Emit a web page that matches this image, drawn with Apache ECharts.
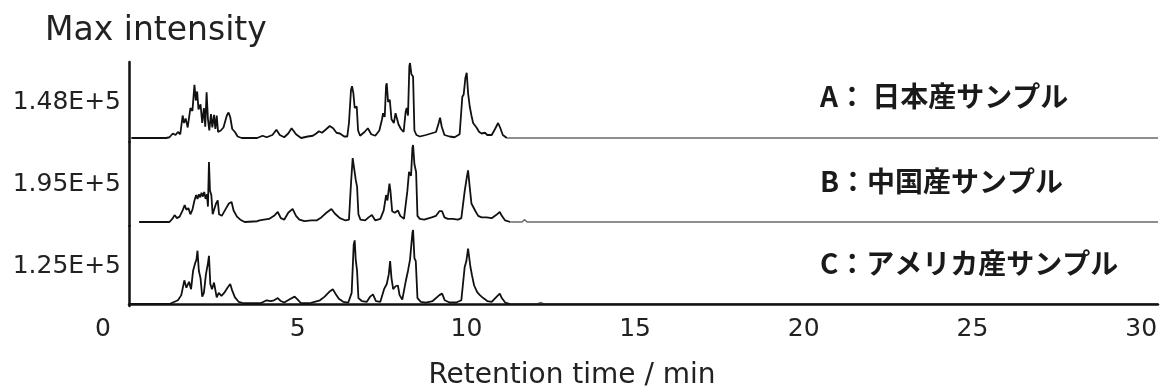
<!DOCTYPE html>
<html>
<head>
<meta charset="utf-8">
<style>
  html, body { margin: 0; padding: 0; background: #fff; }
  #chart { width: 1168px; height: 392px; }
</style>
<script src="https://cdn.jsdelivr.net/npm/echarts@6.0.0/dist/echarts.min.js"></script>
</head>
<body>
<div id="chart"></div>
<script>
// Total ion chromatograms of three samples, each scaled to its own maximum (%).
// Points are [retention time (min), relative intensity (%)].
const traceA = [
  [0.07,0],[1.1,0],[1.2,1],[1.3,6],[1.38,4],[1.45,8],[1.52,5],[1.59,30],[1.63,20],[1.68,26],
  [1.74,14],[1.82,40],[1.88,36],[1.94,71],[1.98,50],[2.02,62],[2.06,38],[2.12,45],[2.17,20],
  [2.22,40],[2.26,15],[2.3,61],[2.34,25],[2.38,10],[2.43,32],[2.47,14],[2.52,31],[2.56,12],
  [2.6,30],[2.64,8],[2.72,10],[2.8,14],[2.9,30],[2.95,34],[3.0,28],[3.06,12],[3.14,8],[3.22,2],
  [3.34,0],[3.8,0],[3.96,3],[4.08,1],[4.25,4],[4.37,11],[4.47,4],[4.6,1],[4.72,6],[4.82,13],
  [4.95,5],[5.1,0],[5.3,2],[5.45,3],[5.55,6],[5.63,9],[5.72,7],[5.85,12],[5.95,16],[6.05,13],
  [6.15,7],[6.25,6],[6.38,2],[6.47,2],[6.52,20],[6.58,64],[6.61,69],[6.65,60],[6.69,40],
  [6.75,42],[6.79,10],[6.85,3],[6.98,8],[7.08,13],[7.18,5],[7.3,3],[7.42,10],[7.5,25],[7.53,33],
  [7.58,28],[7.62,70],[7.64,73],[7.68,48],[7.73,51],[7.78,25],[7.85,20],[7.9,33],[7.94,33],
  [7.99,18],[8.06,12],[8.14,8],[8.2,35],[8.23,40],[8.27,30],[8.31,96],[8.33,100],[8.37,85],
  [8.42,82],[8.46,10],[8.52,4],[8.62,2],[8.8,4],[8.95,6],[9.1,8],[9.18,20],[9.22,27],[9.27,15],
  [9.35,4],[9.5,2],[9.65,1],[9.8,5],[9.88,55],[9.92,58],[9.97,80],[10.01,87],[10.05,60],
  [10.1,42],[10.15,30],[10.2,20],[10.23,22],[10.3,14],[10.38,8],[10.45,6],[10.55,7],[10.62,4],
  [10.75,4],[10.85,12],[10.94,20],[11.0,14],[11.08,4],[11.2,0],
  [12.05,0],[12.1,1.5],[12.2,0],[13.3,0],[13.35,1.2],[13.45,0],[15.0,0],[15.05,1],[15.15,0],
  [16.6,0],[16.65,1],[16.75,0],[18.4,0],[18.45,1],[18.55,0],[20.9,0],[20.95,1.2],[21.05,0],
  [23.2,0],[23.25,1],[23.35,0],[25.6,0],[25.65,1],[25.75,0],[28.1,0],[28.15,1],[28.25,0],[30.5,0]
];
const traceB = [
  [0.3,0],[1.2,0],[1.3,5],[1.35,9],[1.42,5],[1.5,7],[1.58,14],[1.65,22],[1.7,16],[1.76,18],
  [1.82,10],[1.88,16],[1.94,28],[1.99,35],[2.03,30],[2.07,36],[2.11,32],[2.15,38],[2.19,33],
  [2.23,39],[2.27,30],[2.31,36],[2.34,20],[2.37,78],[2.4,41],[2.44,35],[2.48,10],[2.53,12],
  [2.58,24],[2.63,28],[2.67,10],[2.75,8],[2.88,18],[2.96,24],[3.04,26],[3.1,15],[3.2,7],
  [3.3,3],[3.43,0],[3.8,1],[3.87,2],[4.0,3],[4.15,4],[4.3,8],[4.41,13],[4.5,5],[4.6,3],
  [4.72,12],[4.85,17],[4.95,8],[5.05,3],[5.2,1],[5.4,2],[5.56,2],[5.7,6],[5.85,12],[6.0,17],
  [6.1,11],[6.25,5],[6.42,2],[6.52,3],[6.58,50],[6.63,83],[6.67,82],[6.72,55],[6.76,46],
  [6.8,10],[6.86,3],[7.0,2],[7.1,6],[7.2,9],[7.3,2],[7.45,4],[7.55,15],[7.62,35],[7.66,28],
  [7.72,50],[7.75,40],[7.8,14],[7.88,12],[7.97,15],[8.04,8],[8.15,4],[8.25,40],[8.3,65],
  [8.36,60],[8.4,96],[8.42,100],[8.46,75],[8.51,65],[8.55,8],[8.62,4],[8.75,3],[8.97,6],
  [9.1,8],[9.2,14],[9.28,14],[9.35,6],[9.45,4],[9.6,4],[9.75,3],[9.85,5],[9.95,40],[10.02,60],
  [10.05,67],[10.1,45],[10.15,24],[10.2,24],[10.27,14],[10.35,8],[10.45,6],[10.6,6],[10.75,5],
  [10.88,9],[10.99,13],[11.05,8],[11.15,2],[11.3,0],
  [11.65,0],[11.72,3],[11.8,0],[13.9,0],[13.95,1],[14.05,0],[16.0,0],[16.05,1],[16.15,0],
  [18.9,0],[18.95,1],[19.05,0],[20.4,0],[20.45,1.2],[20.55,0],[22.3,0],[22.35,1],[22.45,0],
  [24.6,0],[24.65,1],[24.75,0],[27.3,0],[27.35,1],[27.45,0],[30.5,0]
];
const traceC = [
  [0,0],[1.2,0],[1.3,2],[1.45,5],[1.55,12],[1.64,32],[1.7,22],[1.78,30],[1.84,20],[1.9,45],
  [1.96,55],[2.0,60],[2.03,72],[2.07,45],[2.12,35],[2.17,10],[2.22,15],[2.28,40],[2.34,55],
  [2.37,65],[2.41,27],[2.46,20],[2.52,29],[2.56,28],[2.6,9],[2.66,15],[2.74,11],[2.82,15],
  [2.92,22],[3.0,27],[3.06,18],[3.14,9],[3.25,3],[3.4,1],[3.9,1],[4.08,5],[4.2,4],[4.3,5],
  [4.41,8],[4.5,4],[4.6,2],[4.75,6],[4.91,10],[5.0,6],[5.1,1],[5.35,1],[5.5,3],[5.66,5],
  [5.8,10],[5.95,17],[6.04,20],[6.12,14],[6.22,7],[6.35,3],[6.5,2],[6.6,15],[6.66,80],
  [6.69,86],[6.72,60],[6.76,45],[6.8,8],[6.9,4],[7.05,3],[7.15,10],[7.23,13],[7.32,4],
  [7.45,3],[7.56,20],[7.64,27],[7.7,40],[7.74,58],[7.78,35],[7.83,20],[7.9,24],[7.97,25],
  [8.02,12],[8.1,6],[8.2,30],[8.27,45],[8.33,60],[8.4,96],[8.42,100],[8.46,62],[8.5,58],
  [8.55,8],[8.65,3],[8.8,2],[9.0,4],[9.2,12],[9.28,14],[9.36,5],[9.5,2],[9.7,2],[9.85,5],
  [9.95,50],[10.0,58],[10.05,75],[10.08,77],[10.12,50],[10.17,38],[10.23,25],[10.32,16],
  [10.4,12],[10.5,8],[10.62,4],[10.75,3],[10.9,10],[10.99,14],[11.05,8],[11.15,2],[11.3,0],
  [12.1,0],[12.2,2],[12.3,0],[30.5,0]
];

const sampleLabels = ['A： 日本産サンプル', 'B：中国産サンプル', 'C：アメリカ産サンプル'];
const maxIntensity = ['1.48E+5', '1.95E+5', '1.25E+5'];
const xTicks = [0, 5, 10, 15, 20, 25, 30];

// Panel geometry: top, height, baseline offset from bottom (px), px per 100 %, label centre y
const panels = [
  { top: 62,  height: 80, base: 4, full: 75, labelY: 98 },
  { top: 142, height: 84, base: 4, full: 77, labelY: 183 },
  { top: 226, height: 80, base: 2, full: 74, labelY: 265 }
];
const traces = [traceA, traceB, traceC];
const elutionEnd = 11.4;   // after this the runs are just baseline
const gridLeft = 129, gridRight = 1158;
const labelFont = '"DejaVu Sans", "Liberation Sans", Arial, sans-serif';
const cjkFont = '"Noto Sans CJK JP", "Noto Sans", sans-serif';

const grid = [], xAxis = [], yAxis = [], series = [], graphic = [];
panels.forEach((p, i) => {
  const last = i === panels.length - 1;
  grid.push({ left: gridLeft, width: gridRight - gridLeft, top: p.top, height: p.height });
  xAxis.push({
    gridIndex: i, type: 'value', min: 0, max: 30.5,
    show: last, z: 5,
    axisLine: { show: true, lineStyle: { color: '#111', width: 2.5 } },
    axisTick: { show: false },
    splitLine: { show: false },
    axisLabel: {
      show: last,
      customValues: xTicks,
      color: '#222', fontFamily: labelFont, fontSize: 25, margin: 11,
      formatter: v => (v === 0 ? '{z|0}' : String(v)),
      rich: { z: { color: '#222', fontFamily: labelFont, fontSize: 25, padding: [0, 52, 0, 0] } }
    },
    name: last ? 'Retention time / min' : '',
    nameLocation: 'middle', nameGap: 56,
    nameTextStyle: { color: '#222', fontFamily: labelFont, fontSize: 28, padding: [0, 143, 0, 0] }
  });
  yAxis.push({
    gridIndex: i, type: 'value',
    min: -p.base / p.full * 100,
    max: (p.height - p.base) / p.full * 100,
    axisLine: { show: true, lineStyle: { color: '#111', width: 2.5 } },
    axisTick: { show: false }, axisLabel: { show: false }, splitLine: { show: false },
    name: maxIntensity[i], nameLocation: 'middle', nameRotate: 0, nameGap: 8,
    nameTextStyle: { color: '#222', fontFamily: labelFont, fontSize: 25, align: 'right' }
  });
  // Eluting region in black, the quiet tail of the run in a lighter grey
  const head = traces[i].filter(d => d[0] <= elutionEnd);
  const tail = [head[head.length - 1]].concat(traces[i].filter(d => d[0] > elutionEnd));
  series.push({
    type: 'line', xAxisIndex: i, yAxisIndex: i, data: head,
    showSymbol: false, silent: true,
    lineStyle: { color: '#111', width: 1.8 }
  });
  series.push({
    type: 'line', xAxisIndex: i, yAxisIndex: i, data: tail,
    showSymbol: false, silent: true,
    lineStyle: { color: '#6a6a6a', width: 1.5 }
  });
  graphic.push({
    type: 'text', left: 820, top: p.labelY - 16,
    style: { text: sampleLabels[i], font: 'bold 28px ' + cjkFont, fill: '#1a1a1a' }
  });
});

const chart = echarts.init(document.getElementById('chart'), null, { renderer: 'canvas' });
chart.setOption({
  animation: false,
  backgroundColor: '#fff',
  title: {
    text: 'Max intensity', left: 40, top: 10,
    textStyle: { color: '#222', fontFamily: labelFont, fontSize: 33, fontWeight: 'normal' }
  },
  grid, xAxis, yAxis, series, graphic
});
</script>
</body>
</html>
